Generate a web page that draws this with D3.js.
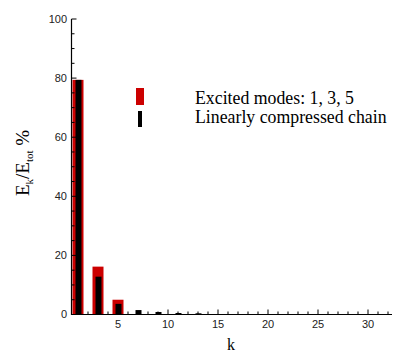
<!DOCTYPE html>
<html>
<head>
<meta charset="utf-8">
<script src="https://cdn.jsdelivr.net/npm/d3@7/dist/d3.min.js"></script>
<style>
  body { margin: 0; background: #fff; }
  svg { display: block; }
</style>
</head>
<body>
<svg id="chart" width="399" height="352"></svg>
<script>
// modes k and energy share (%)
const modes = [1, 3, 5, 7, 9, 11, 13];
const excited = [79.4, 16.2, 5.0, 0, 0, 0, 0];
const compressed = [79.4, 12.8, 3.6, 1.5, 0.85, 0.5, 0.4];
const xTicks = [5, 10, 15, 20, 25, 30];
const yTicks = [0, 20, 40, 60, 80, 100];

const svg = d3.select("#chart");
const plotL = 71.5, plotR = 392, plotT = 19, plotB = 314.5;

const x = d3.scaleLinear().domain([0.35, 32.4]).range([plotL, plotR]);
const y = d3.scaleLinear().domain([0, 100]).range([plotB, plotT]);

const redW = x(1.1) - x(0), blackW = x(0.6) - x(0);

svg.append("g").selectAll("rect")
  .data(modes.map((k, i) => ({ k, v: excited[i] })).filter(d => d.v > 0))
  .join("rect")
  .attr("x", d => x(d.k) - redW / 2)
  .attr("y", d => y(d.v))
  .attr("width", redW)
  .attr("height", d => y(0) - y(d.v))
  .attr("fill", "#cc0000");

svg.append("g").selectAll("rect")
  .data(modes.map((k, i) => ({ k, v: compressed[i] })))
  .join("rect")
  .attr("x", d => x(d.k) - blackW / 2 + 0.5)
  .attr("y", d => y(d.v))
  .attr("width", blackW)
  .attr("height", d => y(0) - y(d.v))
  .attr("fill", "#000");

// axes: ticks point inward, minor ticks without labels
const axis = svg.append("g").attr("stroke", "#000").attr("fill", "none");
axis.append("path").attr("d", `M${plotL},${plotT}V${plotB}H${plotR}`).attr("stroke-width", 1.2);

axis.selectAll("line.xt")
  .data(d3.range(1, 33))
  .join("line")
  .attr("x1", d => x(d)).attr("x2", d => x(d))
  .attr("y1", plotB).attr("y2", d => plotB - (d % 5 === 0 ? 5 : 3));

axis.selectAll("line.yt")
  .data(d3.range(0, 101, 5))
  .join("line")
  .attr("y1", d => y(d)).attr("y2", d => y(d))
  .attr("x1", plotL).attr("x2", d => plotL + (d % 20 === 0 ? 5 : 3));

svg.append("g").selectAll("text")
  .data(xTicks)
  .join("text")
  .attr("x", d => x(d))
  .attr("y", 327.5)
  .attr("text-anchor", "middle")
  .attr("font-family", "Liberation Sans, Arial, sans-serif")
  .attr("font-size", 11)
  .attr("fill", "#222")
  .text(d => d);

svg.append("g").selectAll("text")
  .data(yTicks)
  .join("text")
  .attr("x", 67)
  .attr("y", d => y(d))
  .attr("dy", "0.36em")
  .attr("text-anchor", "end")
  .attr("font-family", "Liberation Sans, Arial, sans-serif")
  .attr("font-size", 11)
  .attr("fill", "#222")
  .text(d => d);

const serif = "Liberation Serif, Times New Roman, serif";

svg.append("text")
  .attr("x", 231)
  .attr("y", 349.5)
  .attr("text-anchor", "middle")
  .attr("font-family", serif)
  .attr("font-size", 16)
  .text("k");

const yt = svg.append("text")
  .attr("transform", "translate(28.5,163) rotate(-90)")
  .attr("text-anchor", "middle")
  .attr("font-family", serif)
  .attr("font-size", 19);
yt.append("tspan").text("E");
yt.append("tspan").attr("font-size", 11).attr("dy", 4).text("k");
yt.append("tspan").attr("dy", -4).text("/E");
yt.append("tspan").attr("font-size", 11).attr("dy", 4).text("tot");
yt.append("tspan").attr("dy", -4).text(" %");

// legend
const legend = [
  { label: "Excited modes: 1, 3, 5", color: "#cc0000", w: 8, y0: 88, h: 17, ty: 103.5 },
  { label: "Linearly compressed chain", color: "#000", w: 4, y0: 111, h: 16, ty: 123 }
];
const lg = svg.append("g");
lg.selectAll("rect")
  .data(legend)
  .join("rect")
  .attr("x", d => 140 - d.w / 2)
  .attr("y", d => d.y0)
  .attr("width", d => d.w)
  .attr("height", d => d.h)
  .attr("fill", d => d.color);
lg.selectAll("text")
  .data(legend)
  .join("text")
  .attr("x", 195)
  .attr("y", d => d.ty)
  .attr("font-family", serif)
  .attr("font-size", 17.8)
  .text(d => d.label);
</script>
</body>
</html>
